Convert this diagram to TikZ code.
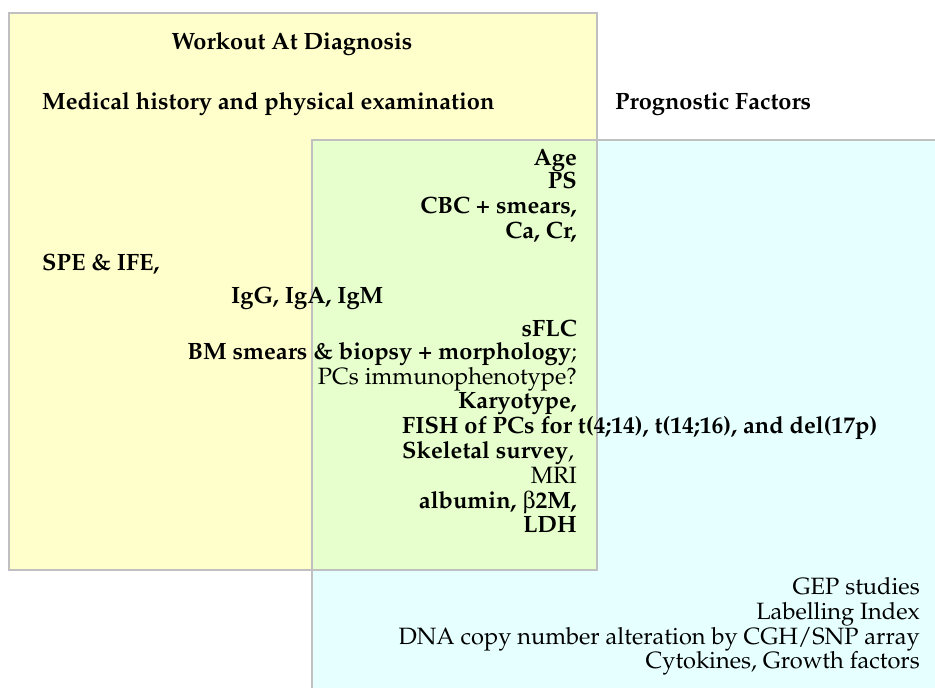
\documentclass[tikz,border=0pt]{standalone}
\usepackage[T1]{fontenc}
\usepackage{mathpazo}
\usepackage[Symbol]{upgreek}
\definecolor{boxyellow}{RGB}{255,255,204}
\definecolor{boxcyan}{RGB}{230,255,255}
\definecolor{boxgreen}{RGB}{230,255,204}
\definecolor{edgegray}{RGB}{192,192,192}
\tikzset{
  txt/.style={inner sep=0pt, font=\fontsize{23.6}{27}\selectfont},
  btxt/.style={txt, font=\fontsize{23.6}{27}\selectfont\bfseries},
  rgt/.style={anchor=mid east},
  lft/.style={anchor=mid west},
  frame/.style={draw=edgegray, line width=1.6pt}
}
\begin{document}
\begin{tikzpicture}[x=1pt,y=-1pt]
\useasboundingbox (0,0) rectangle (935,688);
\clip (0,0) rectangle (935,688);
% fills
\fill[boxyellow] (9,13) rectangle (597,570);
\fill[boxcyan] (312,140) rectangle (940,695);
\fill[boxgreen] (312,140) rectangle (597,570);
% borders
\draw[frame] (9,13) rectangle (597,570);
\draw[frame] (312,140) rectangle (940,695);
% headings
\node[btxt] (workout) at (292,44) {Workout At Diagnosis};
\node[btxt,lft] (medical) at (42,107) {Medical history and physical examination};
\node[btxt,lft] (prog) at (615,107) {Prognostic Factors};
% overlap list
\node[btxt,rgt] (age) at (577,163) {Age};
\node[btxt,rgt] (ps) at (577,186) {PS};
\node[btxt,rgt] (cbc) at (577,211) {CBC + smears,};
\node[btxt,rgt] (ca) at (577,236) {Ca, Cr,};
\node[btxt,lft] (spe) at (42,268) {SPE \& IFE,};
\node[btxt,lft] (igg) at (231,301) {IgG, IgA, IgM};
\node[btxt,rgt] (sflc) at (577,334) {sFLC};
\node[txt,rgt] (bm) at (577,357) {\textbf{BM smears \& biopsy + morphology};};
\node[txt,rgt] (pcs) at (577,382) {PCs immunophenotype?};
\node[btxt,rgt] (karyo) at (577,406) {Karyotype,};
\node[btxt,lft] (fish) at (402,431) {FISH of PCs for t(4;14), t(14;16), and del(17p)};
\node[txt,lft] (skel) at (402,456) {\textbf{Skeletal survey},};
\node[txt,rgt] (mri) at (577,481) {MRI};
\node[btxt,rgt] (alb) at (577,506) {albumin, $\upbeta$2M,};
\node[btxt,rgt] (ldh) at (577,530) {LDH};
% prognostic only
\node[txt,rgt] (gep) at (920,592) {GEP studies};
\node[txt,rgt] (lab) at (920,617) {Labelling Index};
\node[txt,rgt] (dna) at (920,642) {DNA copy number alteration by CGH/SNP array};
\node[txt,rgt] (cyto) at (920,666) {Cytokines, Growth factors};
\end{tikzpicture}
\end{document}
